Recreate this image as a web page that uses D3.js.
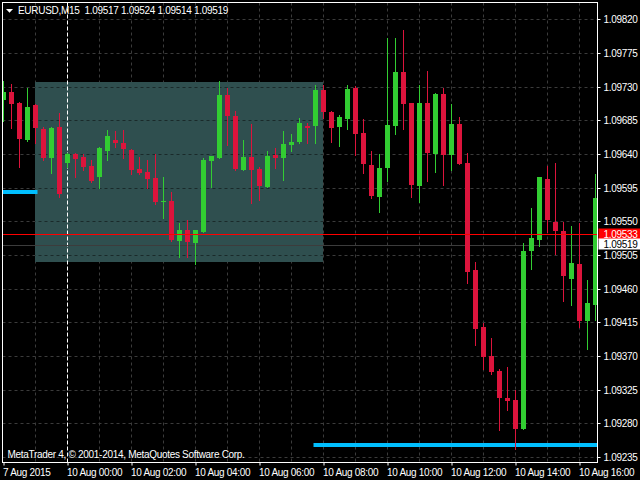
<!DOCTYPE html>
<html><head><meta charset="utf-8">
<script src="https://cdn.jsdelivr.net/npm/d3@7"></script>
<style>
html,body{margin:0;padding:0;background:#000;overflow:hidden}
svg{display:block}
text{font-family:"Liberation Sans",Arial,sans-serif;font-size:10px;letter-spacing:-0.3px}
</style></head><body>
<svg id="chart" width="640" height="480"></svg>
<script>
// ---------- data ----------
const symbol = "EURUSD,M15";
const headerOHLC = [1.09517, 1.09524, 1.09514, 1.09519];
const copyright = "MetaTrader 4, \u00A9 2001-2014, MetaQuotes Software Corp.";
const priceTicks = [1.09820, 1.09775, 1.09730, 1.09685, 1.09640, 1.09595, 1.09550,
                    1.09505, 1.09460, 1.09415, 1.09370, 1.09325, 1.09280, 1.09235];
const timeTickBars = [0, 8, 16, 24, 32, 40, 48, 56, 64, 72];
const timeTickLabels = ["7 Aug 2015", "10 Aug 00:00", "10 Aug 02:00", "10 Aug 04:00", "10 Aug 06:00",
                        "10 Aug 08:00", "10 Aug 10:00", "10 Aug 12:00", "10 Aug 14:00", "10 Aug 16:00"];
const daySeparatorBar = 8;

const open = [1.09712,1.09723,1.09708,1.09659,1.09705,1.09673,1.09635,1.09676,1.09628,1.09640,
  1.09636,1.09624,1.09609,1.09644,1.09659,1.09655,1.09645,1.09620,1.09616,1.09608,
  1.09577,1.09577,1.09523,1.09538,1.09521,1.09536,1.09631,1.09635,1.09719,1.09691,
  1.09619,1.09636,1.09620,1.09596,1.09639,1.09635,1.09652,1.09656,1.09677,1.09678,
  1.09725,1.09696,1.09676,1.09687,1.09728,1.09668,1.09625,1.09582,1.09621,1.09678,
  1.09750,1.09708,1.09597,1.09708,1.09640,1.09720,1.09638,1.09680,1.09628,1.09485,
  1.09409,1.09370,1.09350,1.09314,1.09311,1.09272,1.09510,1.09525,1.09606,1.09549,
  1.09537,1.09473,1.09493,1.09417,1.09438];
const high = [1.09737,1.09733,1.09710,1.09728,1.09707,1.09676,1.09676,1.09695,1.09641,1.09641,
  1.09640,1.09632,1.09650,1.09672,1.09671,1.09672,1.09646,1.09636,1.09632,1.09640,
  1.09609,1.09589,1.09548,1.09552,1.09538,1.09635,1.09637,1.09737,1.09728,1.09697,
  1.09659,1.09680,1.09622,1.09644,1.09648,1.09671,1.09667,1.09688,1.09681,1.09732,
  1.09732,1.09697,1.09692,1.09732,1.09731,1.09687,1.09644,1.09640,1.09795,1.09795,
  1.09806,1.09708,1.09732,1.09751,1.09721,1.09728,1.09707,1.09689,1.09641,1.09495,
  1.09414,1.09394,1.09353,1.09355,1.09324,1.09521,1.09568,1.09609,1.09624,1.09628,
  1.09549,1.09544,1.09548,1.09471,1.09613];
const low = [1.09684,1.09675,1.09623,1.09657,1.09655,1.09632,1.09615,1.09583,1.09623,1.09609,
  1.09618,1.09603,1.09595,1.09632,1.09650,1.09635,1.09613,1.09613,1.09595,1.09573,
  1.09555,1.09524,1.09502,1.09502,1.09493,1.09536,1.09596,1.09635,1.09652,1.09618,
  1.09619,1.09575,1.09579,1.09596,1.09621,1.09605,1.09644,1.09655,1.09655,1.09655,
  1.09688,1.09656,1.09651,1.09673,1.09639,1.09615,1.09581,1.09563,1.09604,1.09667,
  1.09674,1.09582,1.09576,1.09604,1.09616,1.09598,1.09618,1.09627,1.09468,1.09385,
  1.09352,1.09346,1.09271,1.09297,1.09245,1.09272,1.09486,1.09517,1.09536,1.09506,
  1.09444,1.09438,1.09409,1.09379,1.09418];
const close = [1.09723,1.09707,1.09660,1.09703,1.09675,1.09635,1.09675,1.09587,1.09640,1.09633,
  1.09622,1.09604,1.09648,1.09664,1.09655,1.09646,1.09619,1.09615,1.09607,1.09576,
  1.09577,1.09525,1.09538,1.09522,1.09538,1.09632,1.09637,1.09719,1.09691,1.09620,
  1.09636,1.09619,1.09597,1.09637,1.09635,1.09653,1.09656,1.09681,1.09675,1.09725,
  1.09696,1.09675,1.09689,1.09727,1.09667,1.09626,1.09584,1.09621,1.09679,1.09750,
  1.09707,1.09598,1.09708,1.09641,1.09720,1.09638,1.09680,1.09627,1.09482,1.09406,
  1.09369,1.09349,1.09313,1.09310,1.09272,1.09510,1.09527,1.09609,1.09552,1.09537,
  1.09477,1.09494,1.09417,1.09441,1.09581];

// chart objects (anchored in bar index / price)
const zoneBars = [4, 40];
const zonePrices = [1.09736, 1.09495];
const levelFromBar = [-2, 39];
const levelToBar = [4, 80];
const levelPrice = [1.09589, 1.09251];
const hLinePrice = 1.09533;
const bidPrice = headerOHLC[3];

// ---------- drawing ----------
const svg = d3.select("#chart");
const W = 640, H = 480;
const L = 2.5, T = 2.5, R = 597.5, B = 462.5;
const crisp = v => Math.round(v) + 0.5;

svg.append("rect").attr("width", W).attr("height", H).attr("fill", "#000");

const x = d3.scaleLinear().domain([0, 74]).range([3.5, 595.5]);
const y = d3.scaleLinear().domain([1.09235, 1.09820]).range([456.8, 19.4]);

const defs = svg.append("defs");
defs.append("clipPath").attr("id", "plot").append("rect")
  .attr("x", L + 0.5).attr("y", T + 0.5).attr("width", R - L - 1).attr("height", B - T - 1);
defs.append("clipPath").attr("id", "zone").append("rect")
  .attr("x", x(zoneBars[0]) - 0.5).attr("y", Math.round(y(zonePrices[0])))
  .attr("width", x(zoneBars[1]) - x(zoneBars[0]))
  .attr("height", Math.round(y(zonePrices[1])) - Math.round(y(zonePrices[0])));

const plot = svg.append("g").attr("clip-path", "url(#plot)");
const gridColor = "#3b3b3b";

// vertical grid (hourly)
const hourBars = d3.range(4, 75, 4);
plot.append("g").selectAll("line").data(hourBars.filter(b => b !== daySeparatorBar)).join("line")
  .attr("x1", d => x(d)).attr("x2", d => x(d)).attr("y1", T).attr("y2", B)
  .attr("stroke", gridColor).attr("stroke-dasharray", "3,3");
// horizontal grid
plot.append("g").selectAll("line").data(priceTicks).join("line")
  .attr("x1", L).attr("x2", R).attr("y1", d => crisp(y(d))).attr("y2", d => crisp(y(d)))
  .attr("stroke", gridColor).attr("stroke-dasharray", "3,3");

// background rectangle zone
plot.append("rect")
  .attr("x", x(zoneBars[0]) - 0.5).attr("y", Math.round(y(zonePrices[0])))
  .attr("width", x(zoneBars[1]) - x(zoneBars[0]))
  .attr("height", Math.round(y(zonePrices[1])) - Math.round(y(zonePrices[0])))
  .attr("fill", "#2f4f4f");
// grid seen through the zone
plot.append("g").attr("clip-path", "url(#zone)").selectAll("line").data(priceTicks).join("line")
  .attr("x1", L).attr("x2", R).attr("y1", d => crisp(y(d))).attr("y2", d => crisp(y(d)))
  .attr("stroke", "#1a2a2a").attr("stroke-dasharray", "3,3");

// day separator
plot.append("line")
  .attr("x1", x(daySeparatorBar)).attr("x2", x(daySeparatorBar)).attr("y1", T).attr("y2", B)
  .attr("stroke", "#ffffff").attr("stroke-dasharray", "4,2");

// cyan levels
plot.append("g").selectAll("line").data(levelPrice).join("line")
  .attr("x1", (d, i) => x(levelFromBar[i])).attr("x2", (d, i) => x(levelToBar[i]))
  .attr("y1", d => Math.round(y(d))).attr("y2", d => Math.round(y(d)))
  .attr("stroke", "#00bfff").attr("stroke-width", 4).attr("stroke-linecap", "square");

// bid line
plot.append("line").attr("x1", L).attr("x2", R)
  .attr("y1", crisp(y(bidPrice)) + 1).attr("y2", crisp(y(bidPrice)) + 1)
  .attr("stroke", "#3c3c3c");

// candles
const bars = d3.range(open.length);
const col = i => close[i] >= open[i] ? "#32cd32" : "#dc143c";
const cg = plot.append("g");
cg.selectAll("line").data(bars).join("line")
  .attr("x1", i => x(i)).attr("x2", i => x(i))
  .attr("y1", i => Math.round(y(high[i]))).attr("y2", i => Math.round(y(low[i])) + 1)
  .attr("stroke", col);
cg.selectAll("rect").data(bars).join("rect")
  .attr("x", i => x(i) - 2.5).attr("width", 5)
  .attr("y", i => Math.round(y(Math.max(open[i], close[i]))))
  .attr("height", i => Math.max(1, Math.round(y(Math.min(open[i], close[i]))) - Math.round(y(Math.max(open[i], close[i])))))
  .attr("fill", col);

// red horizontal line
plot.append("line").attr("x1", L).attr("x2", R)
  .attr("y1", crisp(y(hLinePrice))).attr("y2", crisp(y(hLinePrice)))
  .attr("stroke", "#ff0000");

// frame
svg.append("rect").attr("x", L).attr("y", T).attr("width", R - L).attr("height", B - T)
  .attr("fill", "none").attr("stroke", "#ffffff");

// price axis
const yAxis = svg.append("g").attr("transform", `translate(${R},0)`)
  .call(d3.axisRight(y).tickValues(priceTicks).tickFormat(d3.format(".5f")).tickSize(3).tickPadding(3));
yAxis.select(".domain").remove();
yAxis.selectAll(".tick line").attr("stroke", "#ffffff");
yAxis.selectAll(".tick").attr("transform", d => `translate(0,${crisp(y(d))})`);
yAxis.selectAll("text").attr("fill", "#ffffff").attr("font-family", null).attr("font-size", null);

// time axis
const xAxis = svg.append("g").attr("transform", `translate(0,${B})`)
  .call(d3.axisBottom(x).tickValues(timeTickBars).tickFormat((d, i) => timeTickLabels[i]).tickSize(3));
xAxis.select(".domain").remove();
xAxis.selectAll(".tick line").attr("stroke", "#ffffff");
xAxis.selectAll("text").attr("fill", "#ffffff").attr("text-anchor", "start")
  .attr("x", -1).attr("y", 13).attr("dy", 0).attr("font-family", null).attr("font-size", null);

// price labels for the line and bid
const fmt = d3.format(".5f");
[[hLinePrice, "#ff0000", "#ffffff"], [bidPrice, "#ffffff", "#000000"]].forEach(([p, bg, fg]) => {
  const cy = Math.round(y(p));
  svg.append("rect").attr("x", R + 1).attr("y", cy - 5.5).attr("width", W - R).attr("height", 11).attr("fill", bg);
  svg.append("text").attr("x", 603.5).attr("y", cy + 4).attr("fill", fg).text(fmt(p));
});

// header
svg.append("path").attr("d", "M6,9 L13,9 L9.5,12.8 Z").attr("fill", "#ffffff");
svg.append("text").attr("x", 18).attr("y", 14).attr("fill", "#ffffff").style("white-space", "pre")
  .text(symbol + "  " + headerOHLC.map(fmt).join(" "));

// copyright
svg.append("text").attr("x", 7.5).attr("y", 458).attr("fill", "#ffffff").text(copyright);
</script>
</body></html>
